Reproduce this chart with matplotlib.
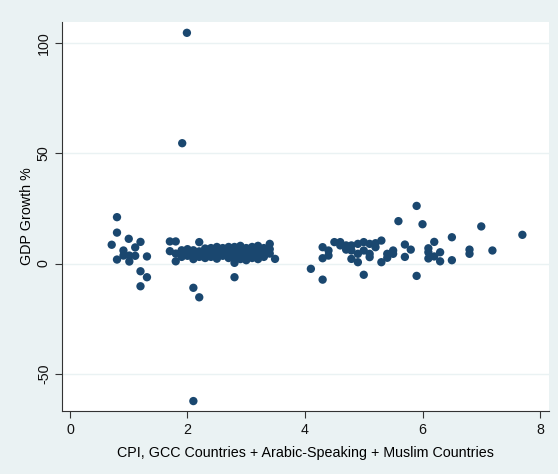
import matplotlib
matplotlib.use("Agg")
import matplotlib.pyplot as plt

# CPI (x) and GDP growth % (y)
cpi_low = [0.80, 0.80, 0.71, 1.00, 1.20, 1.11, 0.91, 1.31, 0.80, 0.91, 1.01, 1.11, 1.01, 1.20, 1.31, 1.20]
gdp_low = [21.0, 14.0, 8.5, 11.2, 9.8, 7.3, 5.9, 3.2, 1.8, 3.6, 3.6, 3.5, 0.9, -3.5, -6.2, -10.3]

cpi_mid = [1.70, 1.70,
           1.80, 1.80, 1.80,
           1.90, 1.90, 1.91,
           1.99, 2.00, 2.00, 2.00,
           2.10, 2.10, 2.10, 2.10, 2.10,
           2.20, 2.20, 2.20, 2.20,
           2.30, 2.30, 2.30,
           2.40, 2.40, 2.40,
           2.50, 2.50, 2.50, 2.50,
           2.60, 2.60, 2.60,
           2.70, 2.70, 2.70, 2.70,
           2.80, 2.80, 2.80, 2.80, 2.80,
           2.90, 2.90, 2.90, 2.90,
           3.00, 3.00, 3.00, 3.00,
           3.10, 3.10, 3.10, 3.10,
           3.20, 3.20, 3.20, 3.20,
           3.30, 3.30, 3.30,
           3.40, 3.40, 3.40,
           3.49]
gdp_mid = [10.0, 5.6,
           10.0, 1.0, 4.5,
           6.0, 3.0, 54.5,
           104.5, 6.5, 3.5, 5.0,
           2.0, -11.0, -62.3, 4.5, 6.0,
           9.7, -15.3, 5.5, 3.0,
           6.8, 4.0, 2.5,
           5.5, 7.0, 3.0,
           6.5, 4.0, 2.2, 7.5,
           5.0, 7.0, 3.5,
           6.0, 4.5, 2.5, 7.5,
           0.3, -6.2, 7.5, 5.0, 3.0,
           8.0, 6.0, 2.0, 4.0,
           7.0, 5.0, 3.0, 1.5,
           7.5, 4.5, 2.5, 6.0,
           6.5, 3.5, 8.0, 2.0,
           7.0, 5.0, 3.0,
           8.9, 4.5, 6.5,
           2.1]

cpi_high = [4.10, 4.30, 4.30, 4.30, 4.40, 4.40, 4.50, 4.60, 4.60, 4.70, 4.70, 4.79, 4.79, 4.79,
            4.90, 4.90, 4.90, 5.00, 5.00, 5.00, 5.10, 5.10, 5.10, 5.20, 5.20, 5.30, 5.30,
            5.40, 5.40, 5.50, 5.50, 5.59, 5.70, 5.70, 5.80, 5.90, 5.90, 6.00, 6.10, 6.10,
            6.10, 6.20, 6.20, 6.30, 6.30, 6.50, 6.50, 6.80, 6.80, 7.00, 7.19, 7.70]
gdp_high = [-2.4, -7.3, 2.4, 7.4, 5.9, 3.6, 9.7, 9.7, 8.2, 8.2, 6.3, 8.2, 5.9, 2.1,
            8.9, 4.4, 0.6, 9.7, 5.9, -5.1, 8.9, 4.4, 2.9, 9.2, 7.4, 10.4, 0.6,
            4.4, 2.6, 5.9, 4.4, 19.2, 8.6, 3.0, 6.3, 26.1, -5.6, 17.8, 6.9, 5.1,
            2.3, 9.8, 3.2, 5.1, 1.0, 11.9, 1.5, 6.3, 4.4, 16.8, 5.9, 13.0]

cpi = cpi_low + cpi_mid + cpi_high
gdp = gdp_low + gdp_mid + gdp_high

x_ticks = [0, 2, 4, 6, 8]
y_ticks = [-50, 0, 50, 100]

plt.rcParams['font.family'] = ['Liberation Sans', 'DejaVu Sans']

bg = '#EAF2F3'
fig = plt.figure(figsize=(5.58, 4.74), dpi=100, facecolor=bg)
ax = fig.add_axes([62/558, 1 - 411/474, (549-62)/558, (411-22)/474])
ax.set_facecolor('white')

ax.scatter(cpi, gdp, s=36, color='#1A476F', edgecolors='none', zorder=3)

ax.set_xlim(-0.136, 8.153)
ax.set_ylim(-66.8, 109.4)
ax.set_xticks(x_ticks)
ax.set_yticks(y_ticks)
ax.set_yticklabels([str(v) for v in y_ticks], rotation=90, va='center')
ax.tick_params(axis='both', direction='out', length=5, width=0.8, color='#333333',
               labelsize=10.3, labelcolor='#111111')
ax.tick_params(axis='y', pad=3)
ax.tick_params(axis='x', pad=4)

ax.grid(axis='y', color=bg, linewidth=1.0, zorder=0)
ax.set_axisbelow(True)

for side in ['top', 'right']:
    ax.spines[side].set_visible(False)
for side in ['left', 'bottom']:
    ax.spines[side].set_color('#333333')
    ax.spines[side].set_linewidth(0.8)

ax.set_xlabel('CPI, GCC Countries + Arabic-Speaking + Muslim Countries', fontsize=10.3, labelpad=6)
ax.set_ylabel('GDP Growth %', fontsize=10.3, labelpad=2)

fig.savefig('out.png', dpi=100, facecolor=bg)
